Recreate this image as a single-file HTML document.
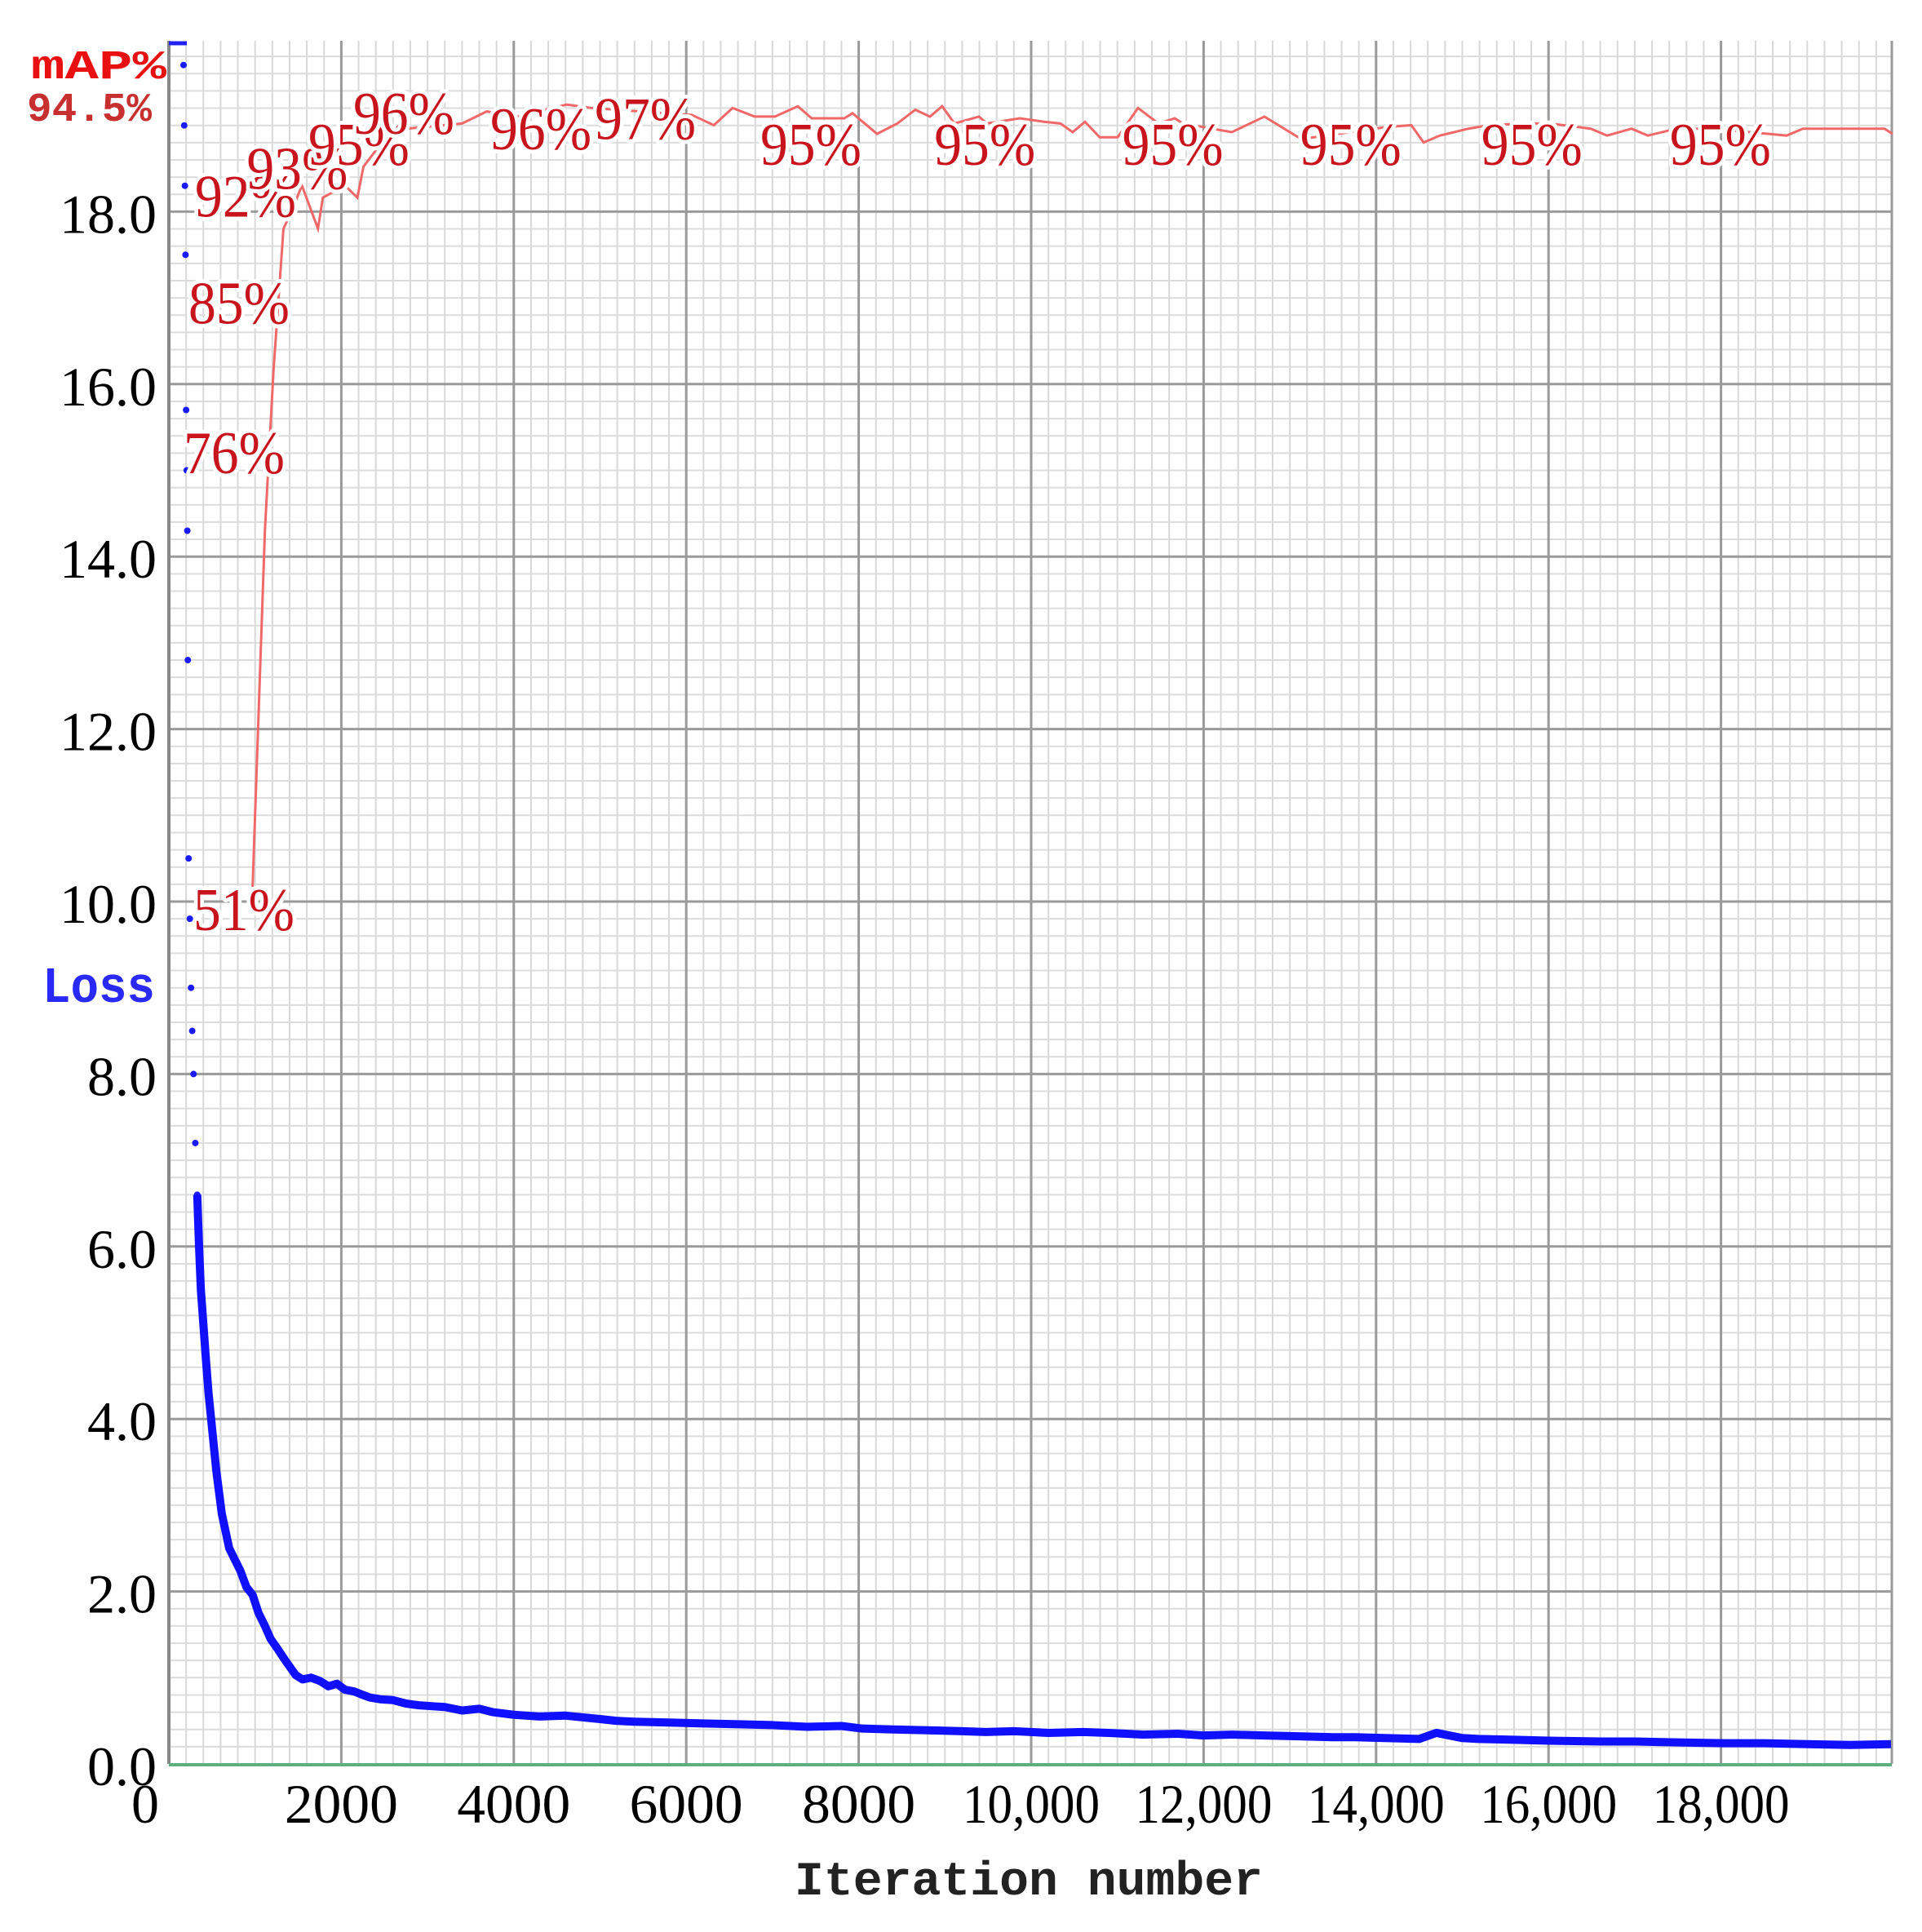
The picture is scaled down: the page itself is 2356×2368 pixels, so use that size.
<!DOCTYPE html>
<html><head><meta charset="utf-8"><style>
html,body{margin:0;padding:0;background:#fff;}
svg{display:block;}
.tick{font-family:"Liberation Serif",serif;font-size:68px;fill:#000;}
.ann{font-family:"Liberation Serif",serif;font-size:74px;fill:#c8141c;paint-order:stroke;stroke:#fff;stroke-width:10px;stroke-linejoin:round;}
</style></head><body>
<svg id="chart" width="2356" height="2368" viewBox="0 0 2356 2368" xmlns="http://www.w3.org/2000/svg">
<g id="grid"></g>
<g id="ticks"></g>
<g id="series"></g>
<g id="anns"></g>
<text x="38" y="96" font-family="Liberation Mono, monospace" font-weight="bold" font-size="50" fill="#e81010" textLength="166" lengthAdjust="spacingAndGlyphs">mAP%</text>
<text x="33" y="148" font-family="Liberation Mono, monospace" font-weight="bold" font-size="50" fill="#c83030" textLength="153" lengthAdjust="spacingAndGlyphs">94.5%</text>
<text x="52" y="1228" font-family="Liberation Mono, monospace" font-weight="bold" font-size="62" fill="#2a2af8" textLength="138" lengthAdjust="spacingAndGlyphs">Loss</text>
<text x="974" y="2322" font-family="Liberation Mono, monospace" font-weight="bold" font-size="58" fill="#222" textLength="574" lengthAdjust="spacingAndGlyphs">Iteration number</text>
</svg>
<script>
const xTicks = [0,2000,4000,6000,8000,10000,12000,14000,16000,18000];
const xTickLabels = ["0","2000","4000","6000","8000","10,000","12,000","14,000","16,000","18,000"];
const yTicks = [0,2,4,6,8,10,12,14,16,18];
const yTickLabels = ["0.0","2.0","4.0","6.0","8.0","10.0","12.0","14.0","16.0","18.0"];
const lossIter = [170,178,186,193,200,207,214,220,229,243,257,271,286,307,329,350,371,400,429,460,500,550,614,700,829,900,971,1040,1114,1180,1257,1350,1471,1550,1650,1757,1850,1950,2043,2150,2250,2329,2450,2600,2750,2900,3043,3200,3400,3600,3757,4000,4300,4600,5000,5186,5400,5800,6200,6614,7000,7400,7800,8043,8400,8800,9200,9471,9800,10200,10600,10900,11300,11700,12000,12329,12700,13100,13500,13757,14100,14500,14700,15000,15186,15600,16000,16614,17000,17500,18043,18500,19000,19500,19971];
const lossVal = [19.7,19.0,18.3,17.5,15.7,15.0,14.3,12.8,10.5,9.8,9.0,8.5,8.0,7.2,6.6,6.0,5.5,5.1,4.7,4.3,3.9,3.4,2.9,2.5,2.24,2.05,1.96,1.75,1.6,1.45,1.34,1.2,1.03,0.98,1.0,0.96,0.9,0.93,0.86,0.84,0.8,0.77,0.75,0.74,0.7,0.68,0.67,0.66,0.62,0.64,0.6,0.57,0.55,0.56,0.52,0.5,0.49,0.48,0.47,0.46,0.45,0.43,0.44,0.41,0.40,0.39,0.38,0.37,0.38,0.36,0.37,0.36,0.34,0.35,0.33,0.34,0.33,0.32,0.31,0.31,0.30,0.29,0.36,0.30,0.29,0.28,0.27,0.26,0.26,0.25,0.24,0.24,0.23,0.22,0.23];
const mapIter = [971,1114,1214,1329,1414,1543,1729,1786,2043,2186,2257,2471,2757,3400,3686,4043,4614,4900,5471,6064,6320,6537,6793,7029,7294,7455,7833,7928,8212,8448,8657,8827,8968,9111,9395,9489,9868,10151,10340,10482,10624,10795,11003,11239,11476,11665,11760,12327,12706,13132,14125,14409,14551,14740,15071,15307,15733,16017,16490,16679,16963,17152,17483,17720,17909,18761,18950,19423,19896,19990];
const mapVal = [50.9,71.6,80.9,89.1,90.0,91.6,89.1,90.9,91.6,90.9,92.7,94.1,94.9,95.2,95.9,95.6,96.3,96.1,95.9,95.7,95.1,96.1,95.6,95.6,96.2,95.5,95.5,95.8,94.6,95.2,96.0,95.6,96.2,95.2,95.6,95.2,95.5,95.3,95.2,94.7,95.3,94.4,94.4,96.1,95.2,95.5,95.2,94.7,95.6,94.3,95.0,95.1,94.1,94.5,94.9,95.1,95.2,95.2,94.9,94.5,94.9,94.5,94.9,94.9,94.9,94.5,94.9,94.9,94.9,94.6];
const annText = ["51%","76%","85%","92%","93%","95%","96%","96%","97%","95%","95%","95%","95%","95%","95%"];
const annIter = [284,170,227,303,902,1617,2138,3728,4940,6859,8876,11056,13120,15220,17406];
const annMap = [48.4,74.9,83.6,89.8,91.4,92.8,94.6,93.7,94.3,92.8,92.8,92.8,92.8,92.8,92.8];

const NS="http://www.w3.org/2000/svg";
const X0=207, XR=2319, Y0=2162, YT=50;
const sx = v => X0 + v*(211.4/2000);
const sy = v => Y0 - v*(211.4/2);
const sm = p => Y0 - p/100*(Y0-YT);
function mk(tag, parent){const e=document.createElementNS(NS,tag);parent.appendChild(e);return e;}
const grid=document.getElementById('grid'), ticks=document.getElementById('ticks'), series=document.getElementById('series'), anns=document.getElementById('anns');

for(let i=1;i<100;i++){const v=i*200;const x=sx(v);if(x>=XR)break;if(i%10===0)continue;
 const l=mk('line',grid);l.setAttribute('x1',x);l.setAttribute('x2',x);l.setAttribute('y1',YT);l.setAttribute('y2',Y0);l.setAttribute('stroke','#d8d8d8');l.setAttribute('stroke-width','2');
 
 }
for(let i=1;i<100;i++){const y=sy(i*0.2);if(y<=YT)break;if(i%10===0)continue;
 const l=mk('line',grid);l.setAttribute('x1',X0);l.setAttribute('x2',XR);l.setAttribute('y1',y);l.setAttribute('y2',y);l.setAttribute('stroke','#dcdcdc');l.setAttribute('stroke-width','2');
 
 }
xTicks.forEach((v,i)=>{const x=sx(v);
 const l=mk('line',grid);l.setAttribute('x1',x);l.setAttribute('x2',x);l.setAttribute('y1',YT);l.setAttribute('y2',Y0);l.setAttribute('stroke','#9a9a9a');l.setAttribute('stroke-width','3');
 
 
 const t=mk('text',ticks);t.setAttribute('class','tick');t.textContent=xTickLabels[i];
 const w = xTickLabels[i].length>4?168:(xTickLabels[i].length>1?139:34);
 t.setAttribute('x', i===0?178-17:x-w/2);t.setAttribute('y',2234);
 t.setAttribute('textLength',w);t.setAttribute('lengthAdjust','spacingAndGlyphs');
 
 });
const rb=mk('line',grid);rb.setAttribute('x1',XR);rb.setAttribute('x2',XR);rb.setAttribute('y1',YT);rb.setAttribute('y2',Y0);rb.setAttribute('stroke','#9a9a9a');rb.setAttribute('stroke-width','3');


yTicks.forEach((v,i)=>{const y=sy(v);
 if(v>0){const l=mk('line',grid);l.setAttribute('x1',X0);l.setAttribute('x2',XR);l.setAttribute('y1',y);l.setAttribute('y2',y);l.setAttribute('stroke','#9a9a9a');l.setAttribute('stroke-width','3');
 
 }
 const t=mk('text',ticks);t.setAttribute('class','tick');t.textContent=yTickLabels[i];
 t.setAttribute('x',192);t.setAttribute('y',y+26);t.setAttribute('text-anchor','end');
 
 });
const ax=mk('line',grid);ax.setAttribute('x1',X0);ax.setAttribute('x2',X0);ax.setAttribute('y1',YT);ax.setAttribute('y2',Y0);ax.setAttribute('stroke','#888');ax.setAttribute('stroke-width','4');


const bl=mk('line',grid);bl.setAttribute('x1',X0);bl.setAttribute('x2',XR);bl.setAttribute('y1',Y0+1);bl.setAttribute('y2',Y0+1);bl.setAttribute('stroke','#5fae80');bl.setAttribute('stroke-width','4');


const tk=mk('line',grid);tk.setAttribute('x1',X0);tk.setAttribute('x2',X0+22);tk.setAttribute('y1',53);tk.setAttribute('y2',53);tk.setAttribute('stroke','#2020f0');tk.setAttribute('stroke-width','5');



const mp=mk('polyline',series);
mp.setAttribute('points',mapIter.map((v,i)=>sx(v)+','+sm(mapVal[i])).join(' '));
mp.setAttribute('fill','none');mp.setAttribute('stroke','#f06868');mp.setAttribute('stroke-width','3');



lossIter.forEach((v,i)=>{if(lossVal[i]>6.5){const c=mk('circle',series);c.setAttribute('cx',sx(v));c.setAttribute('cy',sy(lossVal[i]));c.setAttribute('r',4);c.setAttribute('fill','#1a1aff');
 
 }});
const lp=mk('polyline',series);
lp.setAttribute('points',lossIter.map((v,i)=>[v,lossVal[i]]).filter(p=>p[1]<=6.6).map(p=>sx(p[0])+','+sy(p[1])).join(' '));
lp.setAttribute('fill','none');lp.setAttribute('stroke','#1010ff');lp.setAttribute('stroke-width','10');lp.setAttribute('stroke-linejoin','round');



annText.forEach((s,i)=>{const t=mk('text',anns);t.setAttribute('class','ann');t.textContent=s;
 t.setAttribute('x',sx(annIter[i]));t.setAttribute('y',sm(annMap[i]));
 t.setAttribute('textLength',124);t.setAttribute('lengthAdjust','spacingAndGlyphs');
 
 });
</script>
</body></html>
